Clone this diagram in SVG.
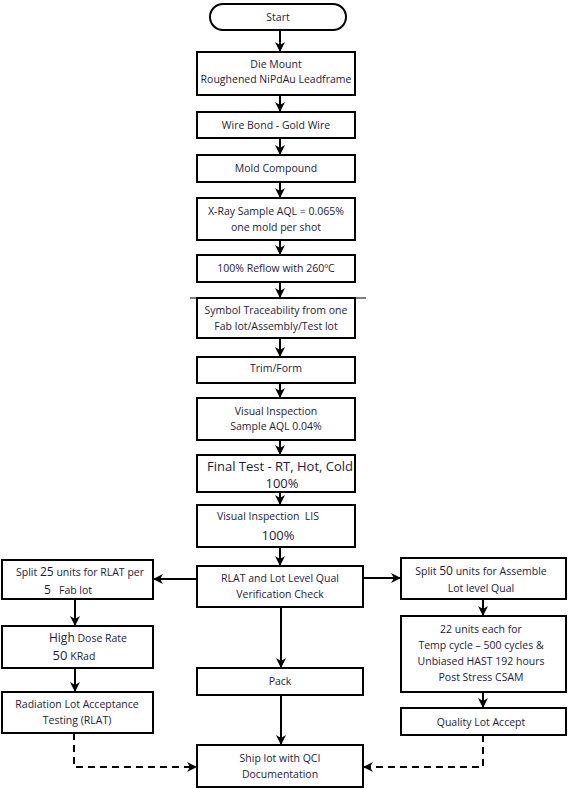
<svg xmlns="http://www.w3.org/2000/svg" width="568" height="789" viewBox="0 0 568 789">
<defs>
<marker id="ah" viewBox="0 0 10 10" refX="9" refY="5" markerWidth="5" markerHeight="5" orient="auto" markerUnits="strokeWidth">
<path d="M0,0 L10,5 L0,10 L3,5 z" fill="#000"/>
</marker>
</defs>
<style>
.box{fill:#fff;stroke:#000;stroke-width:2}
.t{font-family:"Open Sans","DejaVu Sans",sans-serif;font-size:10.5px;fill:#1c1c3c;text-anchor:middle}
.big{font-size:13px}
.mid{font-size:12px}
.c{fill:none;stroke:#000;stroke-width:2}
.d{fill:none;stroke:#000;stroke-width:2;stroke-dasharray:7,5}
</style>
<rect width="568" height="789" fill="#fff"/>
<g id="connectors">
<line class="c" x1="280" y1="30" x2="280" y2="51" marker-end="url(#ah)"/>
<line class="c" x1="280" y1="95" x2="280" y2="111" marker-end="url(#ah)"/>
<line class="c" x1="280" y1="138" x2="280" y2="154" marker-end="url(#ah)"/>
<line class="c" x1="280" y1="182" x2="280" y2="197" marker-end="url(#ah)"/>
<line class="c" x1="280" y1="240" x2="280" y2="254" marker-end="url(#ah)"/>
<line class="c" x1="280" y1="282" x2="280" y2="297" marker-end="url(#ah)"/>
<line class="c" x1="280" y1="338" x2="280" y2="356" marker-end="url(#ah)"/>
<line class="c" x1="280" y1="383" x2="280" y2="397" marker-end="url(#ah)"/>
<line class="c" x1="280" y1="440" x2="280" y2="454" marker-end="url(#ah)"/>
<line class="c" x1="280" y1="492" x2="280" y2="504" marker-end="url(#ah)"/>
<line class="c" x1="280" y1="547" x2="280" y2="565" marker-end="url(#ah)"/>
<line class="c" x1="281" y1="607" x2="281" y2="667" marker-end="url(#ah)"/>
<line class="c" x1="281" y1="695" x2="281" y2="744" marker-end="url(#ah)"/>
<line class="c" x1="197" y1="579" x2="154" y2="579" marker-end="url(#ah)"/>
<line class="c" x1="363" y1="578" x2="400" y2="578" marker-end="url(#ah)"/>
<line class="c" x1="75" y1="599" x2="75" y2="625" marker-end="url(#ah)"/>
<line class="c" x1="75" y1="668" x2="75" y2="691" marker-end="url(#ah)"/>
<line class="c" x1="483" y1="599" x2="483" y2="615" marker-end="url(#ah)"/>
<line class="c" x1="483" y1="692" x2="483" y2="707" marker-end="url(#ah)"/>
<polyline class="d" points="74,733 74,767 196,767" marker-end="url(#ah)"/>
<polyline class="d" points="483,735 483,767 364,767" marker-end="url(#ah)"/>
</g>
<g id="start"><rect class="box" x="210" y="4" width="136" height="26" rx="13"/><text class="t" x="278" y="21">Start</text></g>
<g id="die-mount"><rect class="box" x="197" y="52" width="158" height="43"/><text class="t" x="276" y="68">Die Mount</text><text class="t" x="276" y="83">Roughened NiPdAu Leadframe</text></g>
<g id="wire-bond"><rect class="box" x="197" y="112" width="158" height="26"/><text class="t" x="276" y="129">Wire Bond - Gold Wire</text></g>
<g id="mold"><rect class="box" x="197" y="155" width="158" height="27"/><text class="t" x="276" y="172">Mold Compound</text></g>
<g id="xray"><rect class="box" x="197" y="198" width="158" height="42"/><text class="t" x="276" y="215">X-Ray Sample AQL = 0.065%</text><text class="t" x="276" y="231">one mold per shot</text></g>
<g id="reflow"><rect class="box" x="197" y="255" width="158" height="27"/><text class="t" x="276" y="272">100% Reflow with 260ºC</text></g>
<g id="symbol"><rect class="box" x="197" y="298" width="158" height="40"/><line x1="190" y1="298" x2="366" y2="298" stroke="#000" stroke-width="1.2"/><text class="t" x="276" y="314">Symbol Traceability from one</text><text class="t" x="276" y="330">Fab lot/Assembly/Test lot</text></g>
<g id="trim"><rect class="box" x="197" y="357" width="158" height="26"/><text class="t" x="276" y="372">Trim/Form</text></g>
<g id="visual"><rect class="box" x="197" y="398" width="158" height="42"/><text class="t" x="276" y="415">Visual Inspection</text><text class="t" x="276" y="430">Sample AQL 0.04%</text></g>
<g id="final-test"><rect class="box" x="197" y="455" width="158" height="37"/><text class="t big" x="280" y="471">Final Test - RT, Hot, Cold</text><text class="t big" x="282" y="488">100%</text></g>
<g id="visual-lis"><rect class="box" x="197" y="505" width="158" height="42"/><text class="t" x="268" y="520">Visual Inspection&#160; LIS</text><text class="t big" x="278" y="540">100%</text></g>
<g id="rlat-check"><rect class="box" x="197" y="566" width="166" height="41"/><text class="t" x="280" y="582">RLAT and Lot Level Qual</text><text class="t" x="280" y="598">Verification Check</text></g>
<g id="pack"><rect class="box" x="197" y="668" width="166" height="27"/><text class="t" x="280" y="685">Pack</text></g>
<g id="ship"><rect class="box" x="197" y="745" width="166" height="42"/><text class="t" x="280" y="762">Ship lot with QCI</text><text class="t" x="280" y="778">Documentation</text></g>
<g id="split25"><rect class="box" x="2" y="560" width="151" height="39"/><text class="t" x="80" y="576">Split <tspan class="mid">25</tspan> units for RLAT per</text><text class="t" x="68" y="594"><tspan class="mid">5</tspan>&#160;&#160; Fab lot</text></g>
<g id="high-dose"><rect class="box" x="2" y="626" width="151" height="42"/><text class="t" x="88" y="642"><tspan class="mid">High</tspan> Dose Rate</text><text class="t" x="74" y="660"><tspan class="big">50</tspan> KRad</text></g>
<g id="radiation"><rect class="box" x="2" y="692" width="151" height="41"/><text class="t" x="77" y="708">Radiation Lot Acceptance</text><text class="t" x="77" y="724">Testing (RLAT)</text></g>
<g id="split50"><rect class="box" x="401" y="558" width="165" height="41"/><text class="t" x="481" y="575">Split <tspan class="mid">50</tspan> units for Assemble</text><text class="t" x="481" y="592">Lot level Qual</text></g>
<g id="units22"><rect class="box" x="401" y="616" width="165" height="76"/><text class="t" x="481" y="633">22 units each for</text><text class="t" x="481" y="649">Temp cycle – 500 cycles &amp;</text><text class="t" x="481" y="665">Unbiased HAST 192 hours</text><text class="t" x="481" y="681">Post Stress CSAM</text></g>
<g id="quality"><rect class="box" x="401" y="708" width="165" height="27"/><text class="t" x="481" y="726">Quality Lot Accept</text></g>
</svg>
